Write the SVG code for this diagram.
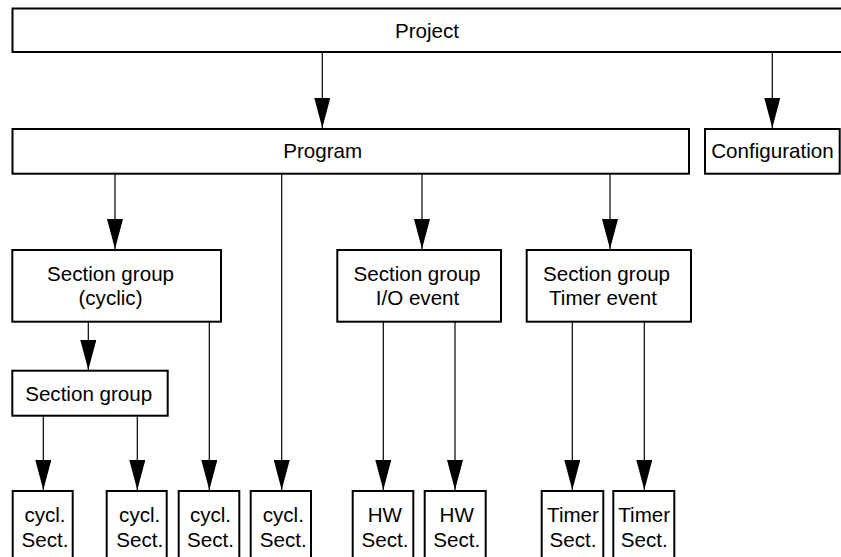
<svg xmlns="http://www.w3.org/2000/svg" width="841" height="557" viewBox="0 0 841 557">
<style>
.box{fill:#fff;stroke:#000;stroke-width:2}
.lbl{font-family:"Liberation Sans",Arial,sans-serif;font-size:20.6px;fill:#000;text-anchor:middle}
.conn{stroke:#000;stroke-width:1.2;fill:none;marker-end:url(#ah)}
</style>
<defs>
<marker id="ah" viewBox="0 0 30 16" refX="30" refY="8" markerWidth="30" markerHeight="16" markerUnits="userSpaceOnUse" orient="auto">
<path d="M0,0 L30,8 L0,16 z" fill="#000"/>
</marker>
</defs>
<rect width="841" height="557" fill="#fff"/>
<g id="connectors">
<line class="conn" x1="322.3" y1="52" x2="322.3" y2="128"/>
<line class="conn" x1="772.3" y1="52" x2="772.3" y2="128"/>
<line class="conn" x1="115" y1="174" x2="115" y2="249"/>
<line class="conn" x1="422" y1="174" x2="422" y2="249"/>
<line class="conn" x1="610" y1="174" x2="610" y2="249"/>
<line class="conn" x1="281.7" y1="174" x2="281.7" y2="490"/>
<line class="conn" x1="88.3" y1="322" x2="88.3" y2="370"/>
<line class="conn" x1="209.3" y1="322" x2="209.3" y2="490"/>
<line class="conn" x1="43.3" y1="416" x2="43.3" y2="490"/>
<line class="conn" x1="137.3" y1="416" x2="137.3" y2="490"/>
<line class="conn" x1="383.3" y1="322" x2="383.3" y2="490"/>
<line class="conn" x1="455" y1="322" x2="455" y2="490"/>
<line class="conn" x1="572.3" y1="322" x2="572.3" y2="490"/>
<line class="conn" x1="644.3" y1="322" x2="644.3" y2="490"/>
</g>
<g id="project"><rect class="box" x="12.5" y="8.5" width="840" height="43.5"/><text class="lbl" x="427" y="37.5">Project</text></g>
<g id="program"><rect class="box" x="12.5" y="129" width="676.5" height="44.7"/><text class="lbl" x="322.7" y="158">Program</text></g>
<g id="configuration"><rect class="box" x="705" y="129" width="134.7" height="44.7"/><text class="lbl" x="772.5" y="158">Configuration</text></g>
<g id="sg-cyclic"><rect class="box" x="12.3" y="250" width="208.7" height="71.7"/><text class="lbl" x="110.5" y="280.7">Section group</text><text class="lbl" x="110.5" y="304.5">(cyclic)</text></g>
<g id="sg-io"><rect class="box" x="337.3" y="250" width="163.7" height="71.7"/><text class="lbl" x="417" y="280.7">Section group</text><text class="lbl" x="417.5" y="304.5">I/O event</text></g>
<g id="sg-timer"><rect class="box" x="526.7" y="250" width="164.3" height="71.7"/><text class="lbl" x="606.5" y="280.7">Section group</text><text class="lbl" x="603" y="304.5">Timer event</text></g>
<g id="sg"><rect class="box" x="12.3" y="370.7" width="155.4" height="45"/><text class="lbl" x="88.7" y="400.7">Section group</text></g>
<g id="cycl1"><rect class="box" x="12.7" y="491" width="60" height="80"/><text class="lbl" x="45" y="521.7">cycl.</text><text class="lbl" x="45" y="546.7">Sect.</text></g>
<g id="cycl2"><rect class="box" x="106.7" y="491" width="60" height="80"/><text class="lbl" x="139.7" y="521.7">cycl.</text><text class="lbl" x="139.7" y="546.7">Sect.</text></g>
<g id="cycl3"><rect class="box" x="178.7" y="491" width="60.6" height="80"/><text class="lbl" x="210.5" y="521.7">cycl.</text><text class="lbl" x="210.5" y="546.7">Sect.</text></g>
<g id="cycl4"><rect class="box" x="250.7" y="491" width="60.3" height="80"/><text class="lbl" x="283.3" y="521.7">cycl.</text><text class="lbl" x="283.3" y="546.7">Sect.</text></g>
<g id="hw1"><rect class="box" x="352.7" y="491" width="60.6" height="80"/><text class="lbl" x="384.8" y="521.7">HW</text><text class="lbl" x="385" y="546.7">Sect.</text></g>
<g id="hw2"><rect class="box" x="424.7" y="491" width="61" height="80"/><text class="lbl" x="456.7" y="521.7">HW</text><text class="lbl" x="456.7" y="546.7">Sect.</text></g>
<g id="timer1"><rect class="box" x="541.7" y="491" width="61.6" height="80"/><text class="lbl" x="573" y="521.7">Timer</text><text class="lbl" x="573" y="546.7">Sect.</text></g>
<g id="timer2"><rect class="box" x="613.3" y="491" width="61" height="80"/><text class="lbl" x="644.2" y="521.7">Timer</text><text class="lbl" x="644.2" y="546.7">Sect.</text></g>
</svg>
